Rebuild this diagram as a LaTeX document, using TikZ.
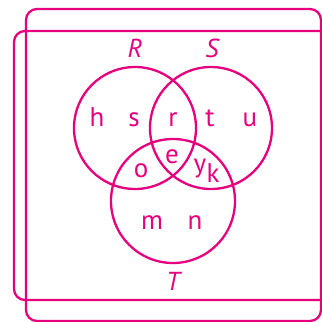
\documentclass[tikz,border=0pt]{standalone}
\usepackage{fontspec}
\setmainfont{PT Sans}
\usepackage{tikz}
\usetikzlibrary{positioning}
\definecolor{vennpink}{RGB}{230,0,126}
\tikzset{
  setline/.style={draw=vennpink,line width=2.3pt},
  elem/.style={text=vennpink,font=\fontsize{27}{29}\selectfont,inner sep=0pt,anchor=base},
  setname/.style={text=vennpink,font=\fontsize{26}{28}\selectfont\itshape,inner sep=0pt,anchor=base}
}
\begin{document}
\begin{tikzpicture}[x=1pt,y=-1pt]
  \useasboundingbox (0,0) rectangle (322,322);
  \clip (0,0) rectangle (322,322);
  % universal sets
  \draw[setline,rounded corners=11pt] (26,9) rectangle (321,321);
  \draw[setline,rounded corners=11pt] (14,31) rectangle (340,300);
  % circles
  \draw[setline] (135,128) circle (61);
  \draw[setline] (211,128) circle (61);
  \draw[setline] (173,201) circle (62);
  % set names
  \node[setname] (nameR) at (135,57) {R};
  \node[setname] (nameS) at (212,57) {S};
  \node[setname] (nameT) at (173,290) {T};
  % elements
  \node[elem] (h) at (97,126) {h};
  \node[elem] (s) at (134,126) {s};
  \node[elem] (r) at (173,126) {r};
  \node[elem] (t) at (210,126) {t};
  \node[elem] (u) at (250,126) {u};
  \node[elem] (e) at (172,163) {e};
  \node[elem] (o) at (141,177) {o};
  \node[elem] (y) at (200,172) {y};
  \node[elem] (k) at (213,182) {k};
  \node[elem] (m) at (152,229) {m};
  \node[elem] (n) at (195,229) {n};
\end{tikzpicture}
\end{document}
